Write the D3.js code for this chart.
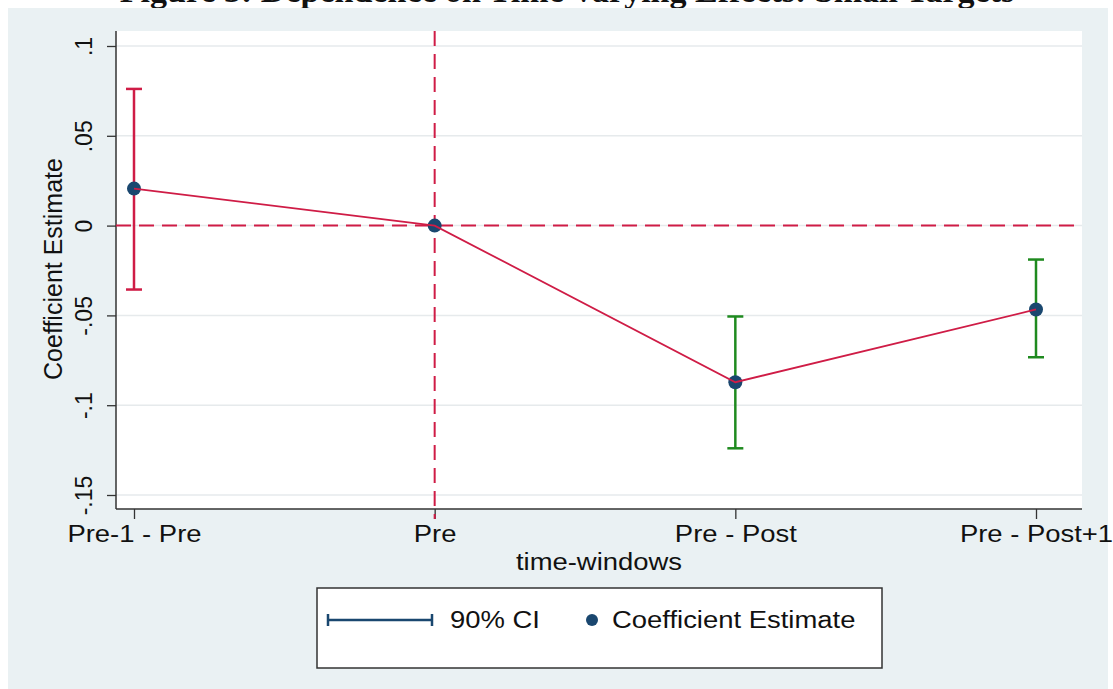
<!DOCTYPE html>
<html>
<head>
<meta charset="utf-8">
<script src="https://cdn.jsdelivr.net/npm/d3@7"></script>
<style>
  html, body { margin: 0; padding: 0; background: #ffffff; }
  svg { display: block; }
  text { font-family: "Liberation Sans", Arial, sans-serif; fill: #111; }
</style>
</head>
<body>
<svg id="chart" width="1113" height="689"></svg>
<script>
// ---- data ----
const categories = ["Pre-1 - Pre", "Pre", "Pre - Post", "Pre - Post+1"];
const estimates  = [0.0206, 0.0, -0.0872, -0.0467];
const ciLow      = [-0.0356, null, -0.1240, -0.0733];
const ciHigh     = [0.0761, null, -0.0506, -0.0189];
const ciGroup    = ["pre", null, "post", "post"];
const yTicks     = [-0.15, -0.1, -0.05, 0, 0.05, 0.1];
const yTickLabels = ["-.15", "-.1", "-.05", "0", ".05", ".1"];
const titleText  = "Figure 3: Dependence on Time-varying Effects: Small Targets";
const xTitle     = "time-windows";
const yTitle     = "Coefficient Estimate";
const legendLabels = ["90% CI", "Coefficient Estimate"];

// ---- styles ----
const crimson = "#cf1c46";
const green = "#1f8a1f";
const navy = "#1a476f";
const bg = "#eaf1f3";
const SX = 1.12; // horizontal stretch of the reference's horizontal text

const svg = d3.select("#chart");

// title (cropped at the top like the reference)
svg.append("text").attr("transform", "translate(567,2)").attr("text-anchor", "middle")
  .style("font-family", "'Liberation Serif', 'Times New Roman', serif")
  .style("font-weight", "bold").style("font-size", "34px").text(titleText);

// graph region background
svg.append("rect").attr("x", 8).attr("y", 8).attr("width", 1100).attr("height", 681).attr("fill", bg);

const plotL = 116, plotR = 1082, plotT = 31, plotB = 509;
const x = d3.scaleLinear().domain([1, 4]).range([134, 1036]);
const y = d3.scaleLinear().domain([-0.15, 0.1]).range([495, 46]);

// plot region
svg.append("rect").attr("x", plotL).attr("y", plotT).attr("width", plotR - plotL).attr("height", plotB - plotT).attr("fill", "#ffffff");

// gridlines
svg.append("g").selectAll("line").data(yTicks).join("line")
  .attr("x1", plotL).attr("x2", plotR)
  .attr("y1", d => y(d)).attr("y2", d => y(d))
  .attr("stroke", "#e6eaec").attr("stroke-width", 1.5);

// y axis
const yAxis = d3.axisLeft(y).tickValues(yTicks).tickSize(9).tickFormat((d, i) => yTickLabels[i]);
const gy = svg.append("g").attr("transform", `translate(${plotL},0)`).call(yAxis);
gy.select(".domain").remove();
gy.selectAll(".tick line").attr("stroke", "#333").attr("stroke-width", 1.3);
gy.selectAll(".tick text")
  .attr("x", 0).attr("y", 0).attr("dy", 0)
  .attr("text-anchor", "middle")
  .attr("transform", "translate(-24,0) rotate(-90)")
  .style("font-size", "23px").style("font-family", "'Liberation Sans', Arial, sans-serif").attr("fill", "#111");
svg.append("line").attr("x1", plotL).attr("x2", plotL).attr("y1", plotT).attr("y2", plotB)
  .attr("stroke", "#333").attr("stroke-width", 1.5);

// x axis
const xAxis = d3.axisBottom(x).tickValues([1, 2, 3, 4]).tickSize(10).tickFormat((d, i) => categories[i]);
const gx = svg.append("g").attr("transform", `translate(0,${plotB})`).call(xAxis);
gx.select(".domain").remove();
gx.selectAll(".tick line").attr("stroke", "#333").attr("stroke-width", 1.3);
gx.selectAll(".tick text").attr("y", 0).attr("dy", 0)
  .attr("transform", `translate(0,33) scale(${SX},1)`)
  .style("font-size", "24.5px").style("font-family", "'Liberation Sans', Arial, sans-serif").attr("fill", "#111");
svg.append("line").attr("x1", plotL).attr("x2", plotR).attr("y1", plotB).attr("y2", plotB)
  .attr("stroke", "#333").attr("stroke-width", 1.5);

// axis titles
svg.append("text").attr("transform", `translate(62,269) rotate(-90)`)
  .attr("text-anchor", "middle").style("font-size", "25px").text(yTitle);
svg.append("text").attr("transform", `translate(599,570) scale(${SX},1)`).attr("text-anchor", "middle")
  .style("font-size", "24.5px").text(xTitle);

// reference lines
svg.append("line").attr("x1", plotL).attr("x2", plotR).attr("y1", y(0)).attr("y2", y(0))
  .attr("stroke", crimson).attr("stroke-width", 2).attr("stroke-dasharray", "15,8");
svg.append("line").attr("x1", x(2)).attr("x2", x(2)).attr("y1", plotT).attr("y2", plotB + 10)
  .attr("stroke", crimson).attr("stroke-width", 2).attr("stroke-dasharray", "15,8");

// CIs
const ciData = categories.map((c, i) => ({ i, lo: ciLow[i], hi: ciHigh[i], g: ciGroup[i] })).filter(d => d.lo !== null);
const ci = svg.append("g").selectAll("g").data(ciData).join("g")
  .attr("stroke", d => d.g === "pre" ? crimson : green).attr("stroke-width", 2.5);
ci.append("line").attr("x1", d => x(d.i + 1)).attr("x2", d => x(d.i + 1))
  .attr("y1", d => y(d.lo)).attr("y2", d => y(d.hi));
ci.append("line").attr("x1", d => x(d.i + 1) - 8).attr("x2", d => x(d.i + 1) + 8)
  .attr("y1", d => y(d.lo)).attr("y2", d => y(d.lo));
ci.append("line").attr("x1", d => x(d.i + 1) - 8).attr("x2", d => x(d.i + 1) + 8)
  .attr("y1", d => y(d.hi)).attr("y2", d => y(d.hi));

// points
svg.append("g").selectAll("circle").data(estimates).join("circle")
  .attr("cx", (d, i) => x(i + 1)).attr("cy", d => y(d)).attr("r", 7).attr("fill", navy);

// connecting line
const line = d3.line().x((d, i) => x(i + 1)).y(d => y(d));
svg.append("path").datum(estimates).attr("d", line).attr("fill", "none")
  .attr("stroke", crimson).attr("stroke-width", 1.8);

// legend
const lg = svg.append("g");
lg.append("rect").attr("x", 317).attr("y", 588).attr("width", 565).attr("height", 80)
  .attr("fill", "#fff").attr("stroke", "#333").attr("stroke-width", 1.5);
lg.append("line").attr("x1", 327).attr("x2", 433).attr("y1", 620).attr("y2", 620).attr("stroke", navy).attr("stroke-width", 2.5);
lg.append("line").attr("x1", 328).attr("x2", 328).attr("y1", 614).attr("y2", 626).attr("stroke", navy).attr("stroke-width", 2.5);
lg.append("line").attr("x1", 432).attr("x2", 432).attr("y1", 614).attr("y2", 626).attr("stroke", navy).attr("stroke-width", 2.5);
lg.append("text").attr("transform", `translate(450,628) scale(${SX},1)`).style("font-size", "24.5px").text(legendLabels[0]);
lg.append("circle").attr("cx", 592).attr("cy", 620).attr("r", 6).attr("fill", navy);
lg.append("text").attr("transform", `translate(612,628) scale(${SX},1)`).style("font-size", "24.5px").text(legendLabels[1]);
</script>
</body>
</html>
